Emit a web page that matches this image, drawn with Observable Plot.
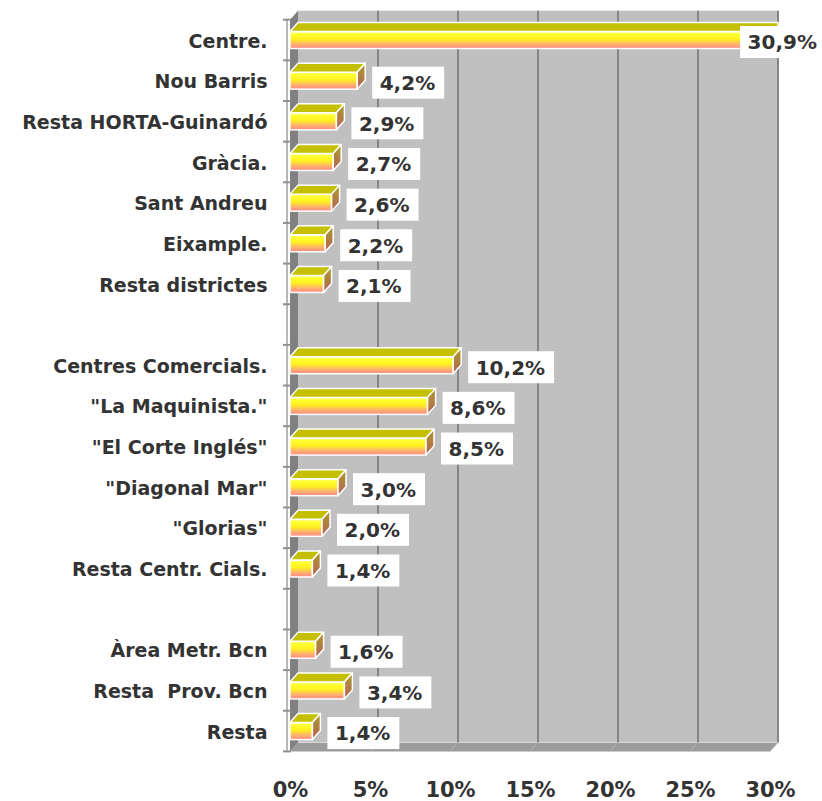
<!DOCTYPE html>
<html>
<head>
<meta charset="utf-8">
<script src="https://cdn.jsdelivr.net/npm/d3@7"></script>
<script src="https://cdn.jsdelivr.net/npm/@observablehq/plot@0.6"></script>
<style>
  body { margin: 0; background: #ffffff; }
  #chart svg text { white-space: pre; }
</style>
</head>
<body>
<div id="chart"></div>
<script>
// ---- data ----
const categories = [
  "Centre.", "Nou Barris", "Resta HORTA-Guinardó", "Gràcia.", "Sant Andreu",
  "Eixample.", "Resta districtes", "",
  "Centres Comercials.", "\"La Maquinista.\"", "\"El Corte Inglés\"", "\"Diagonal Mar\"",
  "\"Glorias\"", "Resta Centr. Cials.", " ",
  "Àrea Metr. Bcn", "Resta  Prov. Bcn", "Resta"
];
const values = [30.9, 4.2, 2.9, 2.7, 2.6, 2.2, 2.1, null,
                10.2, 8.6, 8.5, 3.0, 2.0, 1.4, null,
                1.6, 3.4, 1.4];
const valueLabels = ["30,9%", "4,2%", "2,9%", "2,7%", "2,6%", "2,2%", "2,1%", "",
                     "10,2%", "8,6%", "8,5%", "3,0%", "2,0%", "1,4%", "",
                     "1,6%", "3,4%", "1,4%"];
const xTicks = [0, 5, 10, 15, 20, 25, 30];
const xTickLabels = ["0%", "5%", "10%", "15%", "20%", "25%", "30%"];

// ---- layout ----
const W = 822, H = 801;
const mL = 290, mR = 52, mT = 19.7, mB = 49.6;
const xMax = 30;
const DX = 8, DY = 9;           // 3D depth offsets (px)
const FRONT_H = 17;             // bar front height (px)
const k = (W - mL - mR) / xMax; // px per unit (for clipping at back-wall edge)
const bandH = (H - mT - mB) / categories.length;
const inset = (bandH - FRONT_H) / 2;
const TXT = "#333333";
const FONT = "'DejaVu Sans', Verdana, sans-serif";

const data = categories.map((c, i) => ({cat: c, v: values[i], label: valueLabels[i]}))
                       .filter(d => d.v != null);

const plot = Plot.plot({
  width: W, height: H,
  marginLeft: mL, marginRight: mR, marginTop: mT, marginBottom: mB,
  x: {domain: [0, xMax], axis: null},
  y: {domain: categories, padding: 0, round: false, axis: null},
  style: {fontFamily: FONT, background: "transparent", overflow: "visible"},
  marks: [
    Plot.barX(data, {
      x1: 0,
      x2: d => Math.min(d.v, xMax + DX / k),
      y: "cat",
      insetTop: inset, insetBottom: inset,
      fill: "url(#frontGrad)", stroke: "white", strokeWidth: 1.5
    }),
    Plot.text(categories, {
      y: d => d, text: d => d, frameAnchor: "left", dx: -23, dy: 1, textAnchor: "end",
      fontSize: 19, fontWeight: "bold", fill: TXT
    }),
    Plot.text(xTicks, {
      x: d => d, text: (d, i) => xTickLabels[i], frameAnchor: "bottom", lineAnchor: "middle",
      dy: 38.5, fontSize: 21, fontWeight: "bold", fill: TXT
    }),
    Plot.text(data, {
      x: "v", y: "cat", text: "label", dx: 22, dy: 2.5, textAnchor: "start",
      fontSize: 20, fontWeight: "bold", fill: TXT
    })
  ]
});

document.getElementById("chart").appendChild(plot);

// ---- 3D decoration using the plot's scales ----
const svg = d3.select(plot);
const xs = plot.scale("x"), ys = plot.scale("y");
const X = v => xs.apply(v);
const step = ys.step || ys.bandwidth;
const yTop = Math.min(...ys.range), yBot = Math.max(...ys.range);

// gradients
const defs = svg.append("defs");
const fg = defs.append("linearGradient").attr("id", "frontGrad")
  .attr("x1", 0).attr("y1", 0).attr("x2", 0).attr("y2", 1);
[[0, "#ffffa0"], [0.15, "#ffff30"], [0.45, "#fff020"], [0.75, "#ffb070"], [1, "#ff8580"]]
  .forEach(([o, c]) => fg.append("stop").attr("offset", o).attr("stop-color", c));
const sg = defs.append("linearGradient").attr("id", "sideGrad")
  .attr("x1", 0).attr("y1", 0).attr("x2", 0).attr("y2", 1);
[[0, "#aa9a28"], [0.5, "#b08040"], [1, "#b8605a"]]
  .forEach(([o, c]) => sg.append("stop").attr("offset", o).attr("stop-color", c));

const pts = a => a.map(p => p.join(",")).join(" ");

// walls (behind everything)
const walls = svg.insert("g", ":first-child");
const x0 = X(0), x30 = X(xMax);
walls.append("rect")
  .attr("x", x0 + DX).attr("y", yTop - DY)
  .attr("width", x30 - x0).attr("height", yBot - yTop)
  .attr("fill", "#c0c0c0");
walls.append("polygon")
  .attr("points", pts([[x0, yTop], [x0 + DX, yTop - DY], [x0 + DX, yBot - DY], [x0, yBot]]))
  .attr("fill", "#808080");
walls.append("polygon")
  .attr("points", pts([[x0, yBot], [x0 + DX, yBot - DY], [x30 + DX, yBot - DY], [x30, yBot]]))
  .attr("fill", "#9c9c9c");
walls.append("line")
  .attr("x1", x0 + DX).attr("x2", x30 + DX).attr("y1", yBot - DY).attr("y2", yBot - DY)
  .attr("stroke", "#dcdcdc").attr("stroke-width", 1);
xTicks.filter(v => v > 0).forEach(v => {
  walls.append("line")
    .attr("x1", X(v) + DX).attr("x2", X(v) + DX).attr("y1", yTop - DY).attr("y2", yBot - DY)
    .attr("stroke", "#858585").attr("stroke-width", 2);
  walls.append("line")
    .attr("x1", X(v) + DX).attr("x2", X(v)).attr("y1", yBot - DY).attr("y2", yBot)
    .attr("stroke", "#b4b4b4").attr("stroke-width", 1);
});
// y axis line and ticks at band boundaries
walls.append("line")
  .attr("x1", x0 - 3).attr("x2", x0 - 3).attr("y1", yTop).attr("y2", yBot)
  .attr("stroke", "#a0a0a0").attr("stroke-width", 1.5);
for (let i = 0; i <= categories.length; i++) {
  const y = yTop + i * step;
  walls.append("line")
    .attr("x1", x0 - 7).attr("x2", x0 + 1).attr("y1", y).attr("y2", y)
    .attr("stroke", "#909090").attr("stroke-width", 2);
}

// bar top and side faces, placed right after the bar group
const barG = svg.select('g[aria-label="bar"]').node();
const faces = document.createElementNS("http://www.w3.org/2000/svg", "g");
barG.parentNode.insertBefore(faces, barG.nextSibling);
const fsel = d3.select(faces);
const limit = X(xMax) + DX;
data.forEach(d => {
  const xa = X(0);
  let xb = X(d.v);
  const clipped = xb > limit;
  if (clipped) xb = limit;
  const yf = ys.apply(d.cat) + inset;
  const yb = yf + FRONT_H;
  const xbTop = clipped ? xb : xb + DX;
  fsel.append("polygon")
    .attr("points", pts([[xa, yf], [xa + DX, yf - DY], [xbTop, yf - DY], [xb, yf]]))
    .attr("fill", "#c4c000").attr("stroke", "white").attr("stroke-width", 1.5)
    .attr("stroke-linejoin", "round");
  if (!clipped) {
    fsel.append("polygon")
      .attr("points", pts([[xb, yf], [xb + DX, yf - DY], [xb + DX, yb - DY], [xb, yb]]))
      .attr("fill", "url(#sideGrad)").attr("stroke", "white").attr("stroke-width", 1.5)
      .attr("stroke-linejoin", "round");
  }
});

// white label boxes behind value labels
const textGroups = svg.selectAll('g[aria-label="text"]').nodes();
const labelG = textGroups[textGroups.length - 1];
const boxes = document.createElementNS("http://www.w3.org/2000/svg", "g");
labelG.parentNode.insertBefore(boxes, labelG);
const bsel = d3.select(boxes);
const svgRect = plot.getBoundingClientRect();
d3.select(labelG).selectAll("text").each(function(_, j) {
  let r = this.getBoundingClientRect();
  let left = r.left - svgRect.left, right = r.right - svgRect.left;
  if (right + 9 > W) {
    const delta = (W - 5) - right;
    this.setAttribute("transform", `translate(${delta},0) ` + (this.getAttribute("transform") || ""));
    left += delta; right += delta;
  }
  const d = data[j];
  const cy = ys.apply(d.cat) + step / 2 + 2;
  bsel.append("rect")
    .attr("x", left - 7.5).attr("y", cy - 16)
    .attr("width", right - left + 16.5).attr("height", 32)
    .attr("fill", "white");
});
</script>
</body>
</html>
